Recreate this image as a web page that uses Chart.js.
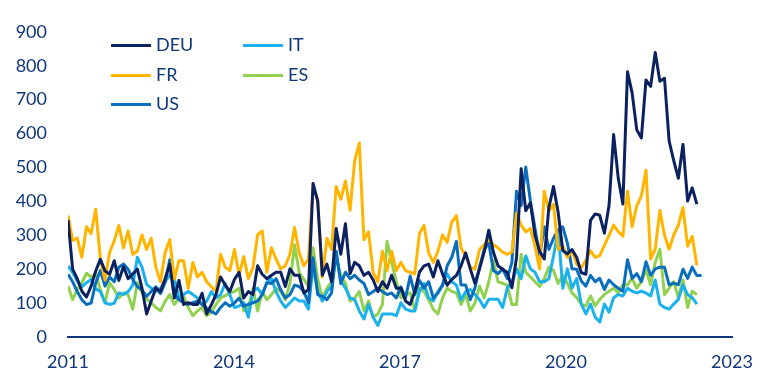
<!DOCTYPE html>
<html>
<head>
<meta charset="utf-8">
<script src="https://cdn.jsdelivr.net/npm/chart.js@4.4.1/dist/chart.umd.min.js"></script>
<style>
  html, body { margin: 0; padding: 0; background: #fff; }
  #wrap { position: relative; width: 777px; height: 391px; }
  #legend { position: absolute; left: 0; top: 0; font-family: Lato, sans-serif; font-size: 18px; color: #10377a; }
  .item { position: absolute; height: 22px; line-height: 22px; white-space: nowrap; }
  .item i { display: inline-block; width: 40px; height: 3px; vertical-align: middle; margin-right: 5px; position: relative; top: -1px; }
</style>
</head>
<body>
<div id="wrap">
  <canvas id="chart" width="777" height="391"></canvas>
  <div id="legend"></div>
</div>
<script>
// ======= Dados (mensal, jan 2011 em diante) =======
const tickYears = ['2011', '2014', '2017', '2020', '2023'];
const axisMonths = 143.6;

const deu = [345, 200, 172, 135, 118, 150, 195, 229, 195, 185, 225, 167, 208, 172, 186, 200, 144, 68, 106, 144,
  134, 172, 215, 115, 167, 96, 101, 96, 96, 129, 68, 95, 125, 177, 153, 134, 170, 191, 115, 134, 125, 210, 185,
  172, 182, 191, 191, 149, 201, 182, 182, 130, 139, 453, 400, 182, 215, 163, 320, 244, 334, 187, 220, 210, 182, 191, 168,
  134, 163, 144, 182, 144, 144, 106, 96, 134, 191, 210, 215, 177, 225, 186, 153, 170, 182, 210, 248, 201, 158, 201,
  250, 315, 250, 210, 200, 190, 145, 234, 496, 372, 396, 300, 253, 230, 382, 444, 368, 255, 245, 258, 235, 190, 185,
  344, 363, 359, 306, 387, 597, 468, 392, 782, 720, 611, 587, 758, 739, 839, 754, 763, 578, 520, 468, 568, 401, 440, 392];

const fr = [358, 285, 292, 235, 325, 305, 377, 230, 168, 249, 284, 329, 263, 313, 244, 253, 301, 258, 291, 206, 163, 249,
  287, 170, 225, 225, 144, 220, 177, 191, 163, 148, 134, 244, 206, 196, 258, 182, 237, 172, 205, 301, 313, 191,
  263, 230, 201, 210, 244, 323, 249, 210, 230, 444, 406, 177, 291, 258, 444, 406, 460, 374, 520, 572, 287, 310, 190,
  163, 253, 196, 253, 196, 220, 196, 191, 186, 305, 329, 248, 220, 253, 301, 279, 339, 358, 263, 239, 206,
  200, 258, 272, 287, 272, 263, 250, 244, 250, 365, 330, 310, 320, 268, 201, 430, 372, 391, 258, 268, 235, 255,
  215, 205, 225, 254, 235, 240, 270, 300, 330, 311, 297, 430, 325, 387, 416, 492, 230, 259, 373, 301, 259, 301, 330, 382, 268, 297, 211];

const us = [185, 163, 134, 110, 96, 100, 160, 196, 150, 177, 163, 206, 215, 200, 170, 148, 139, 120, 134, 148, 128, 160,
  228, 125, 110, 101, 96, 101, 106, 96, 85, 75, 68, 87, 101, 91, 100, 115, 91, 96, 101, 106, 125, 160,
  158, 172, 139, 115, 125, 153, 149, 134, 101, 234, 125, 120, 110, 130, 253, 158, 191, 172, 182, 168, 158, 125, 134,
  144, 134, 125, 130, 115, 148, 115, 180, 125, 167, 144, 163, 115, 130, 153, 210, 235, 282, 153, 153, 110, 144, 206,
  258, 277, 196, 187, 201, 172, 220, 430, 387, 501, 401, 320, 239, 325, 258, 291, 315, 325, 277, 201,
  200, 165, 150, 182, 163, 173, 140, 168, 154, 144, 135, 228, 173, 187, 163, 222, 182, 201, 206, 206, 154, 159, 154, 200, 173, 206, 181, 181];

const it = [210, 190, 165, 148, 160, 170, 142, 134, 101, 96, 100, 130, 125, 134, 153, 235, 206, 155, 144, 134, 144, 163,
  182, 172, 115, 125, 134, 125, 115, 96, 106, 134, 115, 125, 158, 125, 87, 91, 101, 58, 134, 144, 125,
  160, 172, 134, 106, 87, 101, 115, 106, 106, 82, 210, 134, 106, 134, 149, 248, 163, 144, 115, 110, 77, 53, 96, 58,
  34, 68, 68, 68, 63, 101, 82, 77, 77, 134, 158, 115, 106, 134, 153, 186, 163, 153, 110, 134, 140, 125, 110,
  87, 111, 111, 111, 87, 144, 163, 201, 172, 239, 201, 191, 163, 163, 172, 239, 315, 144, 201, 144, 172,
  97, 68, 97, 59, 44, 97, 73, 116, 125, 121, 144, 135, 130, 135, 130, 121, 168, 97, 87, 82, 97, 111, 154, 125, 116, 97];

const es = [150, 110, 140, 160, 188, 177, 186, 140, 101, 160, 140, 115, 130, 125, 82, 160, 130, 112, 101, 87, 77, 105,
  125, 96, 115, 120, 87, 63, 77, 87, 63, 72, 96, 115, 122, 130, 134, 144, 77, 87, 144, 77, 134,
  110, 125, 144, 134, 110, 158, 272, 190, 170, 150, 263, 172, 115, 144, 163, 230, 182, 158, 106, 115, 134, 77, 106, 58,
  68, 96, 282, 220, 163, 115, 125, 130, 77, 144, 134, 110, 82, 68, 115, 144, 134, 130, 96, 125, 77,
  100, 150, 115, 163, 225, 163, 158, 153, 96, 96, 244, 191, 177, 163, 149, 172, 206, 196, 158, 182, 158, 130,
  116, 97, 92, 121, 92, 111, 125, 135, 144, 130, 154, 154, 173, 144, 163, 197, 154, 220, 259, 125, 144, 163, 116, 168, 87, 135, 125];

// ordem de desenho: o primeiro fica por cima
const series = [
  { name: 'DEU', values: deu, color: '#0b2160' },
  { name: 'FR',  values: fr,  color: '#ffb400' },
  { name: 'US',  values: us,  color: '#0a6ebd' },
  { name: 'IT',  values: it,  color: '#1bb1ec' },
  { name: 'ES',  values: es,  color: '#92d050' }
];

// posições da legenda (2 colunas, como no original)
const legendPos = { DEU: [111, 33], IT: [243, 33], FR: [111, 63], ES: [243, 63], US: [111, 92] };

const txtColor = '#10377a';
const font = { family: 'Lato', size: 18 };
const xy = arr => arr.map((v, i) => ({ x: i, y: v }));

// ======= Legenda =======
const legend = document.getElementById('legend');
series.forEach(s => {
  const [l, t] = legendPos[s.name];
  legend.innerHTML += `<div class="item" style="left:${l}px; top:${t}px;"><i style="background:${s.color}"></i>${s.name}</div>`;
});

// ======= Gráfico =======
new Chart(document.getElementById('chart'), {
  type: 'line',
  data: {
    datasets: series.map(s => ({
      label: s.name,
      data: xy(s.values),
      borderColor: s.color,
      borderWidth: 3,
      pointRadius: 0,
      tension: 0,
      fill: false,
      borderJoinStyle: 'round'
    }))
  },
  options: {
    responsive: false,
    animation: false,
    devicePixelRatio: 1,
    layout: { padding: { left: 0, right: 45, top: 22, bottom: 0 } },
    plugins: { legend: { display: false }, tooltip: { enabled: false } },
    scales: {
      x: {
        type: 'linear', min: 0, max: axisMonths,
        afterBuildTicks: sc => { sc.ticks = tickYears.map((t, k) => ({ value: k * axisMonths / 4 })); },
        afterFit: sc => { sc.height = 54; },
        grid: { display: false, drawTicks: false },
        border: { display: true, color: txtColor, width: 2 },
        ticks: { autoSkip: false, maxRotation: 0, padding: 14, color: txtColor, font, callback: (v, k) => tickYears[k] }
      },
      y: {
        min: 0, max: 900,
        afterFit: sc => { sc.width = 68; },
        grid: { display: false, drawTicks: false },
        border: { display: false },
        ticks: { stepSize: 100, padding: 21, color: txtColor, font }
      }
    }
  }
});
</script>
</body>
</html>
